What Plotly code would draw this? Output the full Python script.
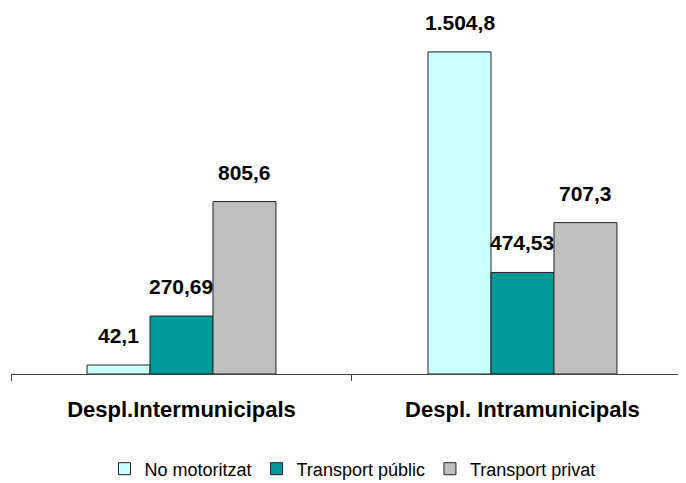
import plotly.graph_objects as go

categories = ["Despl.Intermunicipals", "Despl. Intramunicipals"]
series_names = ["No motoritzat", "Transport públic", "Transport privat"]
no_motoritzat = [42.1, 1504.8]
transport_public = [270.69, 474.53]
transport_privat = [805.6, 707.3]
label_text = [["42,1", "1.504,8"], ["270,69", "474,53"], ["805,6", "707,3"]]

colors = ["#CCFFFF", "#009999", "#C0C0C0"]
values = [no_motoritzat, transport_public, transport_privat]

fig = go.Figure()
for name, vals, col in zip(series_names, values, colors):
    fig.add_trace(go.Bar(
        name=name, x=categories, y=vals,
        marker=dict(color=col, line=dict(color="#222222", width=1)),
    ))

# the page body has an 8px default margin, so margins are reduced by 8px
W, H = 686, 483
ml, mr, mt, mb = 3, 0, 12, 117
x_range = [-0.5, 1.503]
plot_w = W - ml - mr
cat_w = plot_w / (x_range[1] - x_range[0])
bargap = 0.446
bar_w = cat_w * (1 - bargap) / 3
plot_h = H - mt - mb

for si in range(3):
    for ci, cat in enumerate(categories):
        fig.add_annotation(
            x=cat, y=values[si][ci], xref="x", yref="y",
            text="<b>%s</b>" % label_text[si][ci],
            showarrow=False, yanchor="bottom", xanchor="center",
            xshift=(si - 1) * bar_w, yshift=16,
            font=dict(family="Liberation Sans, Arial", size=21, color="black"),
        )

fig.update_layout(
    width=W, height=H,
    margin=dict(l=ml, r=mr, t=mt, b=mb, autoexpand=False),
    plot_bgcolor="white", paper_bgcolor="white",
    barmode="group", bargap=bargap, bargroupgap=0,
    font=dict(family="Liberation Sans, Arial", color="black"),
    showlegend=True,
    legend=dict(orientation="h", x=0.5, xanchor="center", y=-95 / plot_h, yanchor="middle",
                font=dict(size=18), itemwidth=30, tracegroupgap=0),
    xaxis=dict(range=x_range, showline=True, linecolor="#404040", linewidth=1,
               ticks="outside", tickson="boundaries", ticklen=6, tickcolor="#404040",
               tickfont=dict(size=22), tickprefix="<b>", ticksuffix="</b>",
               ticklabelstandoff=16),
    yaxis=dict(visible=False, range=[0, 1654], showgrid=False),
)

fig.write_html("out.html")
